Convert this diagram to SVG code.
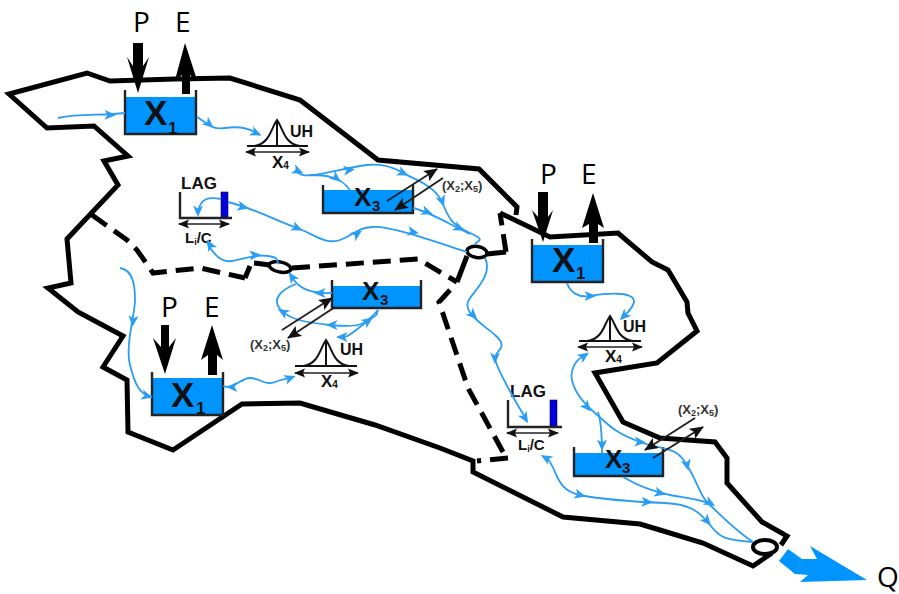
<svg xmlns="http://www.w3.org/2000/svg" xmlns:xlink="http://www.w3.org/1999/xlink" width="899" height="594" viewBox="0 0 899 594">
<style>
.o{fill:none;stroke:#000;stroke-width:5;stroke-linejoin:miter}
.d{fill:none;stroke:#000;stroke-width:5;stroke-dasharray:18 9}
.b{fill:none;stroke:#2a9df4;stroke-width:1.8}
.w{fill:#0094ff}
.k{fill:none;stroke:#222;stroke-width:2.4}
.t{fill:none;stroke:#222;stroke-width:2}
.u{fill:none;stroke:#111;stroke-width:2}
.f{fill:#000}
.el{fill:#fff;fill-opacity:0;stroke:#000;stroke-width:3.5}
.pe{font-family:"Open Sans",sans-serif;font-size:28px;fill:#000}
.x{font-family:"Liberation Sans",Arial,sans-serif;font-weight:bold;fill:#111}
.m{font-size:13px;font-family:"Liberation Sans",Arial,sans-serif;font-weight:bold;fill:#333}
</style>
<defs>
<path id="ah" d="M6 0L-5.5 -5L-2.5 0L-5.5 5Z" fill="#2a9df4"/>
<marker id="ka" markerUnits="userSpaceOnUse" markerWidth="16" markerHeight="12" refX="13" refY="6" orient="auto-start-reverse"><path d="M14 6L0 0L3 6L0 12Z" fill="#111"/></marker>
<marker id="ks" markerUnits="userSpaceOnUse" markerWidth="12" markerHeight="10" refX="10" refY="5" orient="auto-start-reverse"><path d="M11 5L0 0.5L2 5L0 9.5Z" fill="#111"/></marker>
</defs>

<g id="catchment-outline">
<path class="o" d="M516 215L517 207L479 169L378 160L300 100L230 78L175 79L110 81L87 73L9 94L47 128L94 126L128 156L104 161L118 185L67 239L71 283L48 288L78 312L123 336L103 367L127 380L128 432L173 450L242 404L300 403L375 425L440 448L473 461L473 472L563 517L640 524L660 530L703 543L753 566L772 553"/>
<path class="o" d="M500 213L550 237L618 233L652 262L668 270L687 302L688 313L697 331L657 363L595 373L623 422L660 438L715 442L727 458L727 483L762 522L787 536L781 545"/>
<path class="d" d="M92 215L127 240L137 250L153 273L200 268L245 278"/>
<path class="o" d="M245 278L250 266"/>
<path class="o" d="M254 263L270 265"/>
<path class="d" d="M292 268L418 259L457 282"/>
<path class="o" d="M457 282L467 256"/>
<path class="o" d="M487 254L506 252"/>
<path class="d" d="M506 252L500 213"/>
<path class="d" d="M450 290L439 302L468 388L503 452"/>
<path class="d" d="M508 458L477 461"/>
</g>

<g id="outlets">
<ellipse class="el" cx="280" cy="267" rx="11" ry="5" transform="rotate(12 280 267)"/>
<ellipse class="el" cx="477" cy="252" rx="10" ry="5.5" transform="rotate(8 477 252)"/>
<ellipse class="el" style="stroke-width:4" cx="765" cy="547" rx="12" ry="7"/>
</g>

<g id="x1-top">
<rect class="w" x="126" y="97" width="69" height="37"/>
<path class="k" d="M125 90V134H196V90"/>
<text class="x" x="144" y="125" font-size="35">X</text><text class="x" x="168" y="134" font-size="17">1</text>
<text class="pe" x="133" y="32">P</text><text class="pe" x="175" y="32">E</text>
<polygon class="f" points="133,43 143,43 143,66 149,57 138,93 127,57 133,66"/>
<polygon class="f" points="182,94 190,94 190,75 197,80 185,43 175,80 182,75"/>
</g>

<g id="x1-left">
<rect class="w" x="153" y="378" width="69" height="37"/>
<path class="k" d="M152 372V415H223V372"/>
<text class="x" x="171" y="407" font-size="35">X</text><text class="x" x="196" y="414" font-size="17">1</text>
<text class="pe" x="161" y="317">P</text><text class="pe" x="204" y="317">E</text>
<polygon class="f" points="161,325 169,325 169,347 176,338 165,374 153,338 161,347"/>
<polygon class="f" points="208,375 217,375 217,355 223,360 212,325 201,360 208,355"/>
</g>

<g id="x1-right">
<rect class="w" x="533" y="245" width="69" height="37"/>
<path class="k" d="M532 239V282H603V239"/>
<text class="x" x="552" y="272" font-size="35">X</text><text class="x" x="576" y="279" font-size="17">1</text>
<text class="pe" x="540" y="184">P</text><text class="pe" x="581" y="184">E</text>
<polygon class="f" points="538,192 548,192 548,217 553,210 543,242 532,210 538,217"/>
<polygon class="f" points="589,243 598,243 598,224 604,228 593,193 582,228 589,224"/>
</g>

<g id="x3-top">
<rect class="w" x="324" y="190" width="88" height="23"/>
<path class="k" d="M323 185V213H413V185"/>
<text class="x" x="354" y="206" font-size="26">X</text><text class="x" x="372" y="211" font-size="15">3</text>
<text class="m" x="442" y="190">(X<tspan font-size="9" dy="2">2</tspan><tspan dy="-2">;X</tspan><tspan font-size="9" dy="2">5</tspan><tspan dy="-2">)</tspan></text>
</g>

<g id="x3-left">
<rect class="w" x="333" y="286" width="87" height="22"/>
<path class="k" d="M332 280V308H421V280"/>
<text class="x" x="362" y="300" font-size="26">X</text><text class="x" x="380" y="305" font-size="15">3</text>
<text class="m" x="250" y="349">(X<tspan font-size="9" dy="2">2</tspan><tspan dy="-2">;X</tspan><tspan font-size="9" dy="2">5</tspan><tspan dy="-2">)</tspan></text>
</g>

<g id="x3-right">
<rect class="w" x="575" y="453" width="87" height="23"/>
<path class="k" d="M574 447V476H663V447"/>
<text class="x" x="605" y="468" font-size="26">X</text><text class="x" x="622" y="473" font-size="15">3</text>
<text class="m" x="678" y="414">(X<tspan font-size="9" dy="2">2</tspan><tspan dy="-2">;X</tspan><tspan font-size="9" dy="2">5</tspan><tspan dy="-2">)</tspan></text>
</g>

<g id="uh-top">
<path class="u" d="M247 146H308M277 120V146M254 146C270 144 271 128 277 120C283 128 284 144 300 146"/>
<path class="t" style="stroke-width:1.5" marker-start="url(#ks)" marker-end="url(#ks)" d="M246 152H309"/>
<text class="x" x="290" y="137" font-size="16">UH</text>
<text class="x" x="272" y="168" font-size="17">X<tspan font-size="10" dy="1">4</tspan></text>
</g>

<g id="uh-left">
<path class="u" d="M295 366H357M326 340V366M303 366C319 364 320 348 326 340C332 348 333 364 349 366"/>
<path class="t" style="stroke-width:1.5" marker-start="url(#ks)" marker-end="url(#ks)" d="M295 373H358"/>
<text class="x" x="340" y="355" font-size="16">UH</text>
<text class="x" x="321" y="387" font-size="17">X<tspan font-size="10" dy="1">4</tspan></text>
</g>

<g id="uh-right">
<path class="u" d="M579 341H641M610 316V341M587 341C603 339 604 324 610 316C616 324 617 339 633 341"/>
<path class="t" style="stroke-width:1.5" marker-start="url(#ks)" marker-end="url(#ks)" d="M578 347H642"/>
<text class="x" x="623" y="332" font-size="16">UH</text>
<text class="x" x="605" y="362" font-size="17">X<tspan font-size="10" dy="1">4</tspan></text>
</g>

<g id="lag-top">
<rect x="221" y="192" width="7" height="26" fill="#0000e0" stroke="#111" stroke-width="0.6"/>
<path class="k" d="M180 192V218H232"/>
<path class="t" style="stroke-width:1.5" marker-start="url(#ks)" marker-end="url(#ks)" d="M179 224H229"/>
<text class="x" x="181" y="189" font-size="17">LAG</text>
<text class="x" x="185" y="243" font-size="15">L<tspan font-size="9" dy="2">i</tspan><tspan dy="-2">/C</tspan></text>
</g>

<g id="lag-right">
<rect x="550" y="400" width="7" height="27" fill="#0000e0" stroke="#111" stroke-width="0.6"/>
<path class="k" d="M508 400V427H562"/>
<path class="t" style="stroke-width:1.5" marker-start="url(#ks)" marker-end="url(#ks)" d="M507 433H558"/>
<text class="x" x="510" y="397" font-size="17">LAG</text>
<text class="x" x="518" y="450" font-size="15">L<tspan font-size="9" dy="2">i</tspan><tspan dy="-2">/C</tspan></text>
</g>

<g id="outflow-q">
<polygon class="w" points="788,549 779,561 795,574 808,575 800,582 867,580 810,546 817,559 802,559"/>
<text class="pe" x="877" y="587">Q</text>
</g>

<g id="connectors">
<path class="b" d="M58 118C80 113 100 116 125 113"/>
<path class="b" d="M197 117C208 124 212 130 225 128S250 128 260 135"/>
<path class="b" d="M295 170C300 176 305 176 315 175S350 167 367 165S395 168 403 173S435 185 442 202S452 225 470 233S476 240 475 245"/>
<path class="b" d="M310 175C325 175 340 176 350 190"/>
<path class="b" d="M413 208C430 212 445 222 470 234"/>
<path class="b" d="M228 202C250 207 280 222 297 228S325 245 340 240S355 228 373 227S430 240 467 252"/>
<path class="b" d="M221 199C210 197 200 197 198 213"/>
<path class="b" d="M207 242C212 252 220 263 232 261S255 254 268 256S275 260 279 264"/>
<path class="b" d="M120 268C133 270 135 285 135 300S125 345 130 365S140 395 152 397"/>
<path class="b" d="M290 275C297 285 303 290 315 292S325 293 332 293"/>
<path class="b" d="M296 284C280 290 272 300 280 309S300 322 330 325S365 325 378 310"/>
<path class="b" d="M340 337C348 339 355 330 368 321S375 316 378 310"/>
<path class="b" d="M223 386C235 390 240 378 250 378S265 386 275 382S285 380 292 377"/>
<path class="b" d="M485 258C492 272 480 285 470 298S480 322 495 335S495 350 495 358S520 410 527 420"/>
<path class="b" d="M567 283C570 292 578 298 590 296S635 290 634 302C633 308 628 312 623 317"/>
<path class="b" d="M585 355C575 360 570 370 572 380S580 400 595 413S615 433 640 442S675 445 687 465S700 495 707 502S735 530 753 542"/>
<path class="b" d="M598 412C602 425 602 440 602 453"/>
<path class="b" d="M623 477C640 487 655 492 670 495S705 500 712 505"/>
<path class="b" d="M547 458C558 470 555 490 580 495S640 502 665 503S700 512 710 525S725 540 753 542"/>
<g>
<use xlink:href="#ah" href="#ah" transform="translate(110 115) rotate(2)"/>
<use xlink:href="#ah" href="#ah" transform="translate(209 124) rotate(40)"/>
<use xlink:href="#ah" href="#ah" transform="translate(256 133) rotate(25)"/>
<use xlink:href="#ah" href="#ah" transform="translate(298 171) rotate(25)"/>
<use xlink:href="#ah" href="#ah" transform="translate(349 170) rotate(-8)"/>
<use xlink:href="#ah" href="#ah" transform="translate(403 173) rotate(25)"/>
<use xlink:href="#ah" href="#ah" transform="translate(442 201) rotate(70)"/>
<use xlink:href="#ah" href="#ah" transform="translate(336 178) rotate(40)"/>
<use xlink:href="#ah" href="#ah" transform="translate(427 212) rotate(20)"/>
<use xlink:href="#ah" href="#ah" transform="translate(459 228) rotate(25)"/>
<use xlink:href="#ah" href="#ah" transform="translate(243 207) rotate(15)"/>
<use xlink:href="#ah" href="#ah" transform="translate(297 228) rotate(25)"/>
<use xlink:href="#ah" href="#ah" transform="translate(357 234) rotate(-35)"/>
<use xlink:href="#ah" href="#ah" transform="translate(413 232) rotate(12)"/>
<use xlink:href="#ah" href="#ah" transform="translate(198 211) rotate(90)"/>
<use xlink:href="#ah" href="#ah" transform="translate(210 245) rotate(-120)"/>
<use xlink:href="#ah" href="#ah" transform="translate(255 255) rotate(-5)"/>
<use xlink:href="#ah" href="#ah" transform="translate(133 321) rotate(95)"/>
<use xlink:href="#ah" href="#ah" transform="translate(147 396) rotate(15)"/>
<use xlink:href="#ah" href="#ah" transform="translate(292 277) rotate(-125)"/>
<use xlink:href="#ah" href="#ah" transform="translate(320 293) rotate(180)"/>
<use xlink:href="#ah" href="#ah" transform="translate(283 312) rotate(-150)"/>
<use xlink:href="#ah" href="#ah" transform="translate(332 325) rotate(180)"/>
<use xlink:href="#ah" href="#ah" transform="translate(342 337) rotate(180)"/>
<use xlink:href="#ah" href="#ah" transform="translate(368 321) rotate(-35)"/>
<use xlink:href="#ah" href="#ah" transform="translate(232 387) rotate(180)"/>
<use xlink:href="#ah" href="#ah" transform="translate(290 378) rotate(-20)"/>
<use xlink:href="#ah" href="#ah" transform="translate(473 315) rotate(45)"/>
<use xlink:href="#ah" href="#ah" transform="translate(495 358) rotate(90)"/>
<use xlink:href="#ah" href="#ah" transform="translate(525 418) rotate(60)"/>
<use xlink:href="#ah" href="#ah" transform="translate(590 296) rotate(0)"/>
<use xlink:href="#ah" href="#ah" transform="translate(624 316) rotate(135)"/>
<use xlink:href="#ah" href="#ah" transform="translate(584 356) rotate(-35)"/>
<use xlink:href="#ah" href="#ah" transform="translate(587 407) rotate(50)"/>
<use xlink:href="#ah" href="#ah" transform="translate(640 442) rotate(5)"/>
<use xlink:href="#ah" href="#ah" transform="translate(687 465) rotate(75)"/>
<use xlink:href="#ah" href="#ah" transform="translate(710 503) rotate(30)"/>
<use xlink:href="#ah" href="#ah" transform="translate(602 445) rotate(90)"/>
<use xlink:href="#ah" href="#ah" transform="translate(660 493) rotate(15)"/>
<use xlink:href="#ah" href="#ah" transform="translate(580 495) rotate(15)"/>
<use xlink:href="#ah" href="#ah" transform="translate(647 502) rotate(3)"/>
<use xlink:href="#ah" href="#ah" transform="translate(707 521) rotate(50)"/>
<use xlink:href="#ah" href="#ah" transform="translate(546 458) rotate(-150)"/>
</g>
<path class="t" marker-end="url(#ka)" d="M387 201L437 169"/>
<path class="t" marker-end="url(#ka)" d="M443 178L395 210"/>
<path class="t" marker-end="url(#ka)" d="M282 330L332 298"/>
<path class="t" marker-end="url(#ka)" d="M335 307L288 338"/>
<path class="t" marker-end="url(#ka)" d="M695 418L645 450"/>
<path class="t" marker-end="url(#ka)" d="M653 458L703 427"/>
</g>
</svg>
